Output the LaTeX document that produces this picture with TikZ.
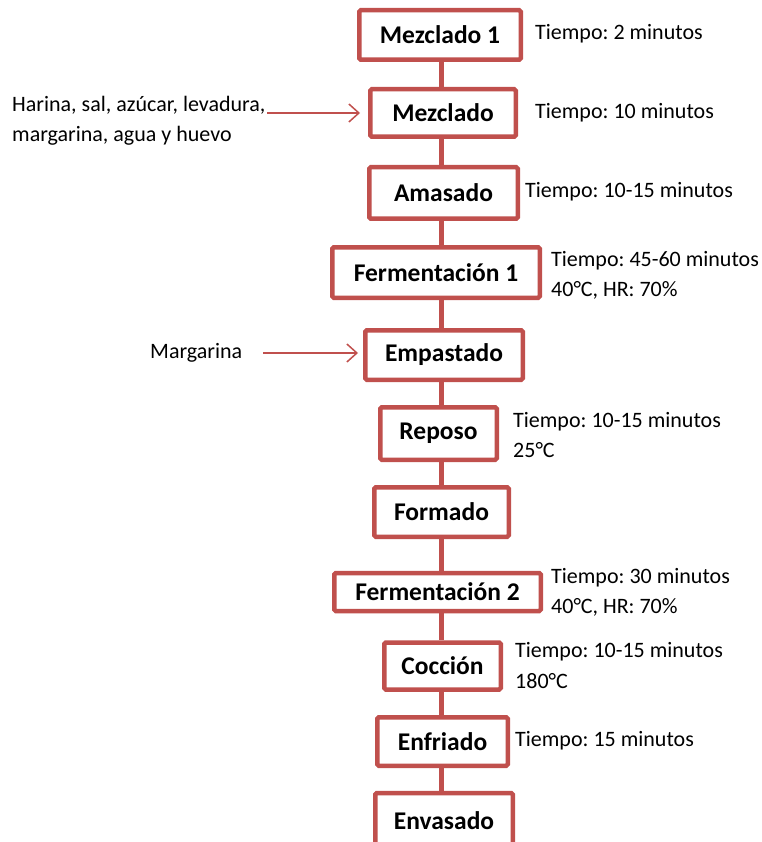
\documentclass[tikz,border=0pt]{standalone}
\usepackage{fontspec}
\setmainfont{Carlito}
\frenchspacing
\usetikzlibrary{arrows.meta}
\pgfdeclarelayer{edgelayer}
\pgfdeclarelayer{nodelayer}
\pgfsetlayers{edgelayer,nodelayer,main}
\definecolor{stepred}{RGB}{192,80,77}
\tikzstyle{none}=[inner sep=0pt]
\tikzstyle{stage}=[rectangle,draw=stepred,line width=4.5pt,fill=white,rounded corners=1.5pt,inner sep=0pt,font=\fontsize{25.5}{30}\selectfont\bfseries]
\tikzstyle{note}=[inner sep=0pt,anchor=base west,font=\fontsize{22}{30}\selectfont]
\tikzstyle{link}=[draw=stepred,line width=5pt]
\tikzstyle{feed}=[-{Straight Barb[length=10pt,width=18pt]},draw=stepred,line width=1.5pt]

\begin{document}
\begin{tikzpicture}[x=1pt,y=-1pt]
	\useasboundingbox (0,0) rectangle (761,842);
	\begin{pgfonlayer}{nodelayer}
		\node [style=stage, minimum width=161.5pt, minimum height=49.5pt] (mezclado1) at (440, 35) {Mezclado 1};
		\node [style=stage, minimum width=145.5pt, minimum height=47.5pt] (mezclado) at (443, 113) {Mezclado};
		\node [style=stage, minimum width=148.5pt, minimum height=51.5pt] (amasado) at (443.5, 193) {Amasado};
		\node [style=stage, minimum width=207.5pt, minimum height=50.5pt] (ferm1) at (436, 272.5) {Fermentación 1};
		\node [style=stage, minimum width=157.5pt, minimum height=49.5pt] (empastado) at (444, 355) {Empastado};
		\node [style=stage, minimum width=116.5pt, minimum height=52.5pt] (reposo) at (438.5, 433.5) {Reposo};
		\node [style=stage, minimum width=134.5pt, minimum height=49.5pt] (formado) at (441.5, 512) {Formado};
		\node [style=stage, minimum width=206.5pt, minimum height=38pt] (ferm2) at (437.5, 592) {Fermentación 2};
		\node [style=stage, minimum width=116.5pt, minimum height=47pt] (coccion) at (442.5, 666) {Cocción};
		\node [style=stage, minimum width=130.5pt, minimum height=48.5pt] (enfriado) at (442.5, 741.5) {Enfriado};
		\node [style=stage, minimum width=137.5pt, minimum height=56pt] (envasado) at (444, 821) {Envasado};

		\node [style=note] (t1) at (535, 40) {Tiempo: 2 minutos};
		\node [style=note] (t2) at (535, 119) {Tiempo: 10 minutos};
		\node [style=note] (t3) at (525, 198) {Tiempo: 10-15 minutos};
		\node [style=note] (t4a) at (551, 266) {Tiempo: 45-60 minutos};
		\node [style=note] (t4b) at (551, 296) {40°C, HR: 70\%};
		\node [style=note] (t6a) at (513, 427) {Tiempo: 10-15 minutos};
		\node [style=note] (t6b) at (513, 457) {25°C};
		\node [style=note] (t8a) at (551, 583) {Tiempo: 30 minutos};
		\node [style=note] (t8b) at (551, 613) {40°C, HR: 70\%};
		\node [style=note] (t9a) at (515, 657) {Tiempo: 10-15 minutos};
		\node [style=note] (t9b) at (515, 688) {180°C};
		\node [style=note] (t10) at (515, 746) {Tiempo: 15 minutos};

		\node [style=note] (harina) at (12, 112) {Harina, sal, azúcar, levadura,};
		\node [style=note] (huevo) at (12, 142) {margarina, agua y huevo};
		\node [style=note] (margarina) at (150, 358) {Margarina};
	\end{pgfonlayer}
	\coordinate (spine) at (441, 0);
	\coordinate (in1) at (267, 113);
	\coordinate (in2) at (263, 353);
	\begin{pgfonlayer}{edgelayer}
		\foreach \a/\b in {mezclado1/mezclado, mezclado/amasado, amasado/ferm1, ferm1/empastado, empastado/reposo, reposo/formado, formado/ferm2, ferm2/coccion, coccion/enfriado, enfriado/envasado}
			\draw [style=link] (\a.south -| spine) -- (\b.north -| spine);
		\draw [style=feed, shorten >=8pt] (in1) -- (in1 -| mezclado.west);
		\draw [style=feed, shorten >=5pt] (in2) -- (in2 -| empastado.west);
	\end{pgfonlayer}
\end{tikzpicture}
\end{document}
